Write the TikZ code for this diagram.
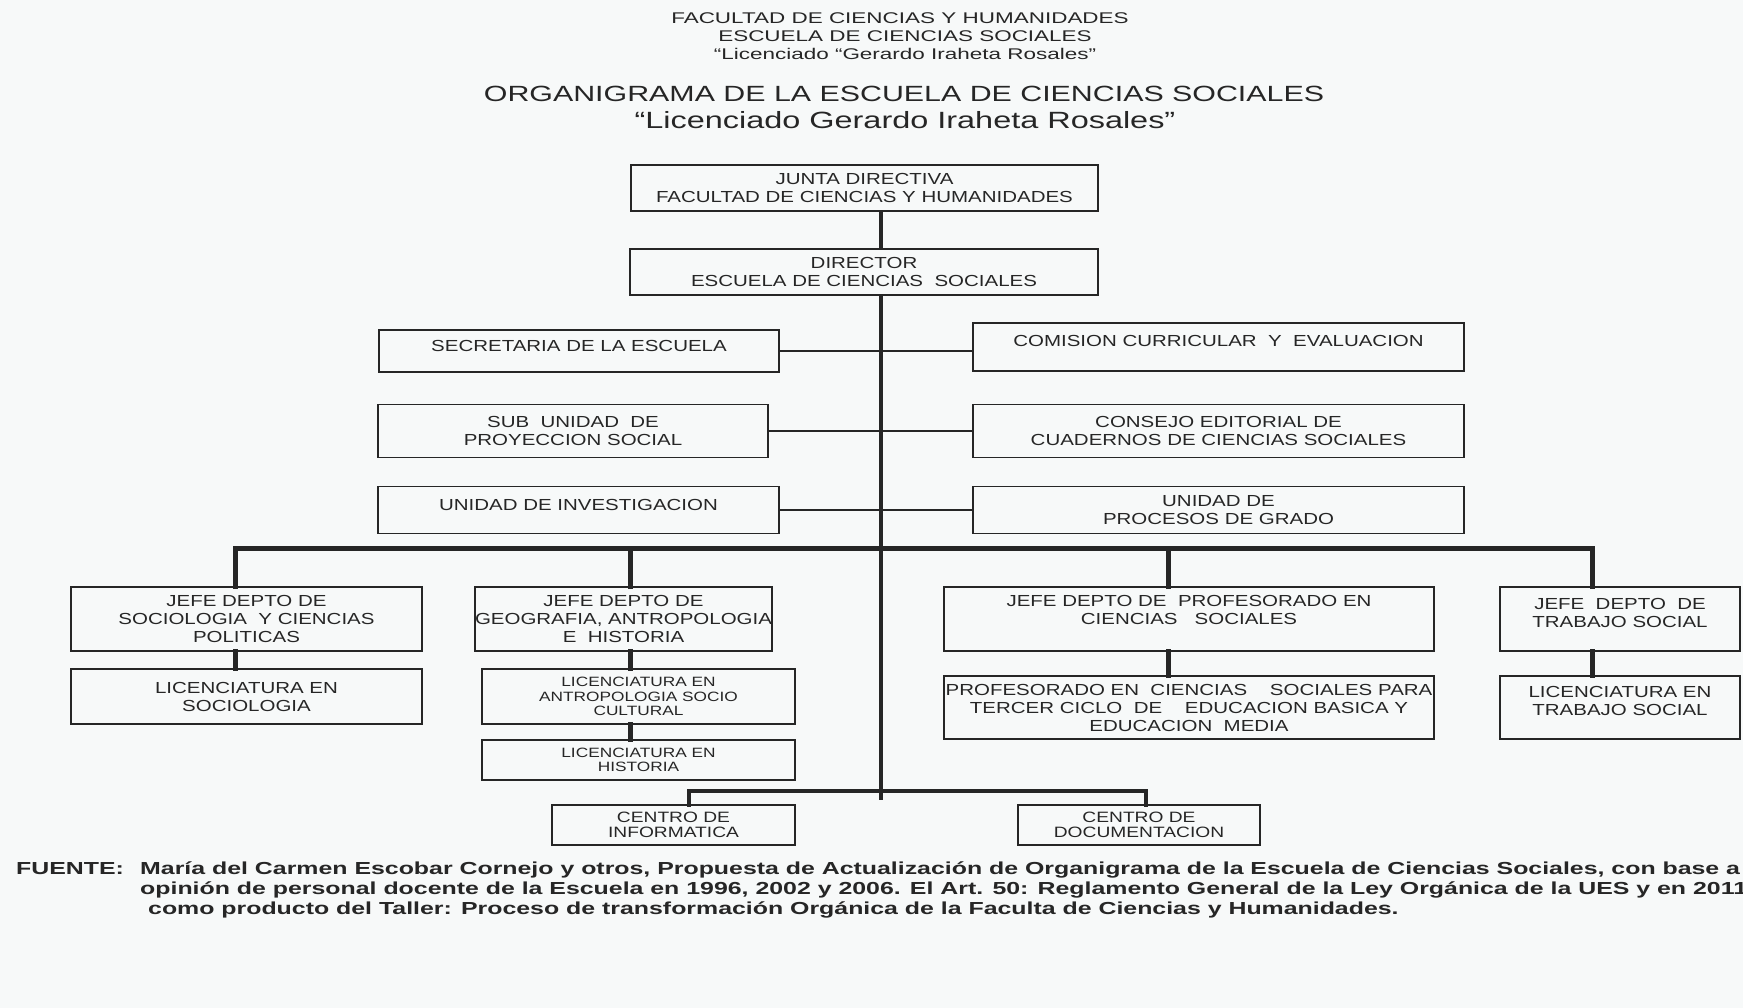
\documentclass[tikz,border=0pt]{standalone}
\usepackage{fontspec}
\setmainfont{Liberation Sans}
\newfontfamily\boxfont[FakeStretch=1.28]{Liberation Sans}
\newfontfamily\headfont[FakeStretch=1.45]{Liberation Sans}
\newfontfamily\titlefont[FakeStretch=1.38]{Liberation Sans}
\newfontfamily\footfont[FakeStretch=1.43]{Liberation Sans}
\definecolor{ink}{RGB}{38,38,38}
\definecolor{paper}{RGB}{247,249,249}
\tikzset{unit/.style={draw=ink, line width=1.2pt, inner sep=0pt, align=center, text=ink, font=\boxfont\fontsize{16}{18}\selectfont}}
\tikzset{unitmid/.style={unit, font=\boxfont\fontsize{15}{15.5}\selectfont}}
\tikzset{unitsmall/.style={unit, font=\boxfont\fontsize{13.5}{14.5}\selectfont}}
\tikzset{staff/.style={draw=ink, line width=1.4pt}}
\tikzset{bus/.style={draw=ink, line width=5pt, line cap=rect}}
\tikzset{spine/.style={draw=ink, line width=4.5pt}}
\tikzset{head/.style={inner sep=0pt, text=ink, font=\headfont\fontsize{15.5}{18}\selectfont}}
\tikzset{title/.style={inner sep=0pt, text=ink, font=\titlefont\fontsize{22}{26}\selectfont}}
\tikzset{foot/.style={inner sep=0pt, anchor=base west, text=ink, font=\footfont\bfseries\fontsize{17.4}{20}\selectfont}}

\begin{document}
\begin{tikzpicture}[x=1pt, y=-1pt]
  \useasboundingbox (0,0) rectangle (1743,1008);
  \fill[paper] (0,0) rectangle (1743,1008);
  % headings
  \node[head] (hdA) at (900,18) {FACULTAD DE CIENCIAS Y HUMANIDADES};
  \node[head] (hdB) at (905,36) {ESCUELA DE CIENCIAS SOCIALES};
  \node[head] (hdC) at (905,54) {“Licenciado “Gerardo Iraheta Rosales”};
  \node[title] (ttl) at (904,94) {ORGANIGRAMA DE LA ESCUELA DE CIENCIAS SOCIALES};
  \node[title, font=\titlefont\fontsize{23.5}{26}\selectfont] (sub) at (905,120) {“Licenciado Gerardo Iraheta Rosales”};
  % direction
  \node[unit, minimum width=467pt, minimum height=46pt] (junta) at (864.5,188) {JUNTA DIRECTIVA\\FACULTAD DE CIENCIAS Y HUMANIDADES};
  \node[unit, minimum width=468pt, minimum height=46pt] (dir) at (864,272) {DIRECTOR\\ESCUELA DE CIENCIAS\ \ SOCIALES};
  % staff units
  \node[unit, minimum width=400pt, minimum height=42pt, text depth=11pt] (sec) at (579,351) {SECRETARIA DE LA ESCUELA};
  \node[unit, minimum width=491pt, minimum height=48pt, text depth=13pt] (com) at (1218.5,347) {COMISION CURRICULAR\ \ Y\ \ EVALUACION};
  \node[unit, minimum width=390pt, minimum height=53pt] (proy) at (573,431) {SUB\ \ UNIDAD\ \ DE\\PROYECCION SOCIAL};
  \node[unit, minimum width=491pt, minimum height=53pt] (cons) at (1218.5,431) {CONSEJO EDITORIAL DE\\CUADERNOS DE CIENCIAS SOCIALES};
  \node[unit, minimum width=401pt, minimum height=47pt, text depth=10pt] (inv) at (578.5,510) {UNIDAD DE INVESTIGACION};
  \node[unit, minimum width=491pt, minimum height=47pt] (grado) at (1218.5,510) {UNIDAD DE\\PROCESOS DE GRADO};
  % departments
  \node[unit, minimum width=351pt, minimum height=64pt] (jsoc) at (246.5,619) {JEFE DEPTO DE\\SOCIOLOGIA\ \ Y CIENCIAS\\POLITICAS};
  \node[unit, minimum width=283pt, minimum height=64pt] (jgeo) at (623.5,619) {JEFE DEPTO DE\\GEOGRAFIA, ANTROPOLOGIA\\E\ \ HISTORIA};
  \node[unit, minimum width=490pt, minimum height=64pt, text depth=18pt] (jprof) at (1189,619) {JEFE DEPTO DE\ \ PROFESORADO EN\\CIENCIAS\ \ \ SOCIALES};
  \node[unit, minimum width=240pt, minimum height=64pt, text depth=13pt] (jts) at (1620,619) {JEFE\ \ DEPTO\ \ DE\\TRABAJO SOCIAL};
  % careers
  \node[unit, minimum width=351pt, minimum height=55pt] (lsoc) at (246.5,696.5) {LICENCIATURA EN\\SOCIOLOGIA};
  \node[unitsmall, minimum width=313pt, minimum height=55pt] (lant) at (638.5,696.5) {LICENCIATURA EN\\ANTROPOLOGIA SOCIO\\CULTURAL};
  \node[unitsmall, minimum width=313pt, minimum height=40pt] (lhis) at (638.5,760) {LICENCIATURA EN\\HISTORIA};
  \node[unit, minimum width=490pt, minimum height=63pt] (prof) at (1189,707.5) {PROFESORADO EN\ \ CIENCIAS\ \ \ \ SOCIALES PARA\\TERCER CICLO\ \ DE\ \ \ \ EDUCACION BASICA Y\\EDUCACION\ \ MEDIA};
  \node[unit, minimum width=240pt, minimum height=63pt, text depth=14pt] (lts) at (1620,707.5) {LICENCIATURA EN\\TRABAJO SOCIAL};
  % centres
  \node[unitmid, minimum width=243pt, minimum height=40pt] (cinf) at (673.5,825) {CENTRO DE\\INFORMATICA};
  \node[unitmid, minimum width=242pt, minimum height=40pt] (cdoc) at (1139,825) {CENTRO DE\\DOCUMENTACION};
  % spine
  \coordinate (spineend) at (881,800);
  \draw[spine] (junta.south -| spineend) -- (dir.north -| spineend);
  \draw[spine] (dir.south -| spineend) -- (spineend);
  % staff links
  \draw[staff] (sec.east) -- (com.west |- sec.east);
  \draw[staff] (proy.east) -- (cons.west);
  \draw[staff] (inv.east) -- (grado.west);
  % department bus
  \coordinate (busL) at (235,548);
  \coordinate (dgeo) at (630,548);
  \coordinate (dprof) at (1168,548);
  \coordinate (busR) at (1592,548);
  \draw[bus] (busL) -- (busR);
  \draw[bus] (busL) -- (jsoc.north -| busL);
  \draw[bus] (jsoc.south -| busL) -- (lsoc.north -| busL);
  \draw[bus] (dgeo) -- (jgeo.north -| dgeo);
  \draw[bus] (jgeo.south -| dgeo) -- (lant.north -| dgeo);
  \draw[bus] (lant.south -| dgeo) -- (lhis.north -| dgeo);
  \draw[bus] (dprof) -- (jprof.north -| dprof);
  \draw[bus] (jprof.south -| dprof) -- (prof.north -| dprof);
  \draw[bus] (busR) -- (jts.north -| busR);
  \draw[bus] (jts.south -| busR) -- (lts.north -| busR);
  % centres bus
  \coordinate (lowL) at (689,791);
  \coordinate (lowR) at (1146,791);
  \draw[bus, line width=4.5pt] (lowL) -- (lowR);
  \draw[bus, line width=4.5pt] (lowL) -- (cinf.north -| lowL);
  \draw[bus, line width=4.5pt] (lowR) -- (cdoc.north -| lowR);
  % source
  \node[foot] (fuente) at (16,874) {FUENTE:};
  \node[foot] (srcA) at (140,874) {María del Carmen Escobar Cornejo y otros, Propuesta de Actualización de Organigrama de la Escuela de Ciencias Sociales, con base a};
  \node[foot] (srcB) at (140,894) {opinión de personal docente de la Escuela en 1996, 2002 y 2006. El Art. 50: Reglamento General de la Ley Orgánica de la UES y en 2011};
  \node[foot] (srcC) at (148,914) {como producto del Taller: Proceso de transformación Orgánica de la Faculta de Ciencias y Humanidades.};
\end{tikzpicture}
\end{document}
